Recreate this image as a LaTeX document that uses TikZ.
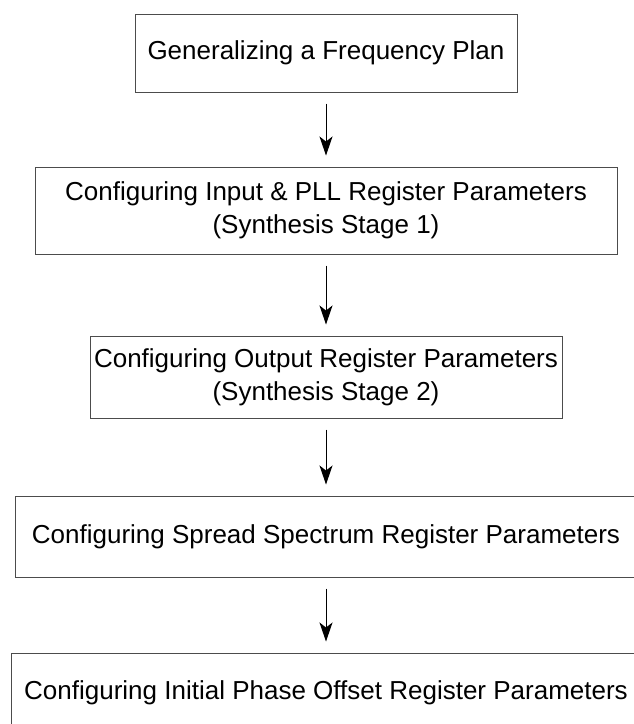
\documentclass[tikz,border=0pt]{standalone}
\usepackage{fontspec}
\setmainfont{Liberation Sans}
\usetikzlibrary{arrows.meta, positioning}

\begin{document}
\begin{tikzpicture}[
    x=1pt, y=1pt,
    font=\fontsize{26}{33}\selectfont,
    node distance=74pt,
    stage/.style={rectangle, draw=black!70, line width=1pt, align=center, inner sep=0pt},
    flow/.style={-{Stealth[length=19pt, width=13pt, inset=5pt]}, line width=1pt, shorten <=11pt, shorten >=11pt}
]

% Page frame (the last two boxes run past it)
\clip (0,0) rectangle (634,-724);

% Stages
\node[stage, minimum width=382pt, minimum height=78pt] (plan) at (326,-53) {Generalizing a Frequency Plan};
\node[stage, minimum width=582pt, minimum height=87pt, below=74pt of plan] (pll) {Configuring Input \& PLL Register Parameters\\(Synthesis Stage 1)};
\node[stage, minimum width=472pt, minimum height=82pt, below=81pt of pll] (output) {Configuring Output Register Parameters\\(Synthesis Stage 2)};
\node[stage, minimum width=622pt, minimum height=81pt, below=77pt of output] (spread) {Configuring Spread Spectrum Register Parameters};
\node[stage, minimum width=630pt, minimum height=80pt, below=75pt of spread] (phase) {Configuring Initial Phase Offset Register Parameters};

% Arrows
\draw[flow] (plan) -- (pll);
\draw[flow] (pll) -- (output);
\draw[flow] (output) -- (spread);
\draw[flow] (spread) -- (phase);

\end{tikzpicture}
\end{document}
